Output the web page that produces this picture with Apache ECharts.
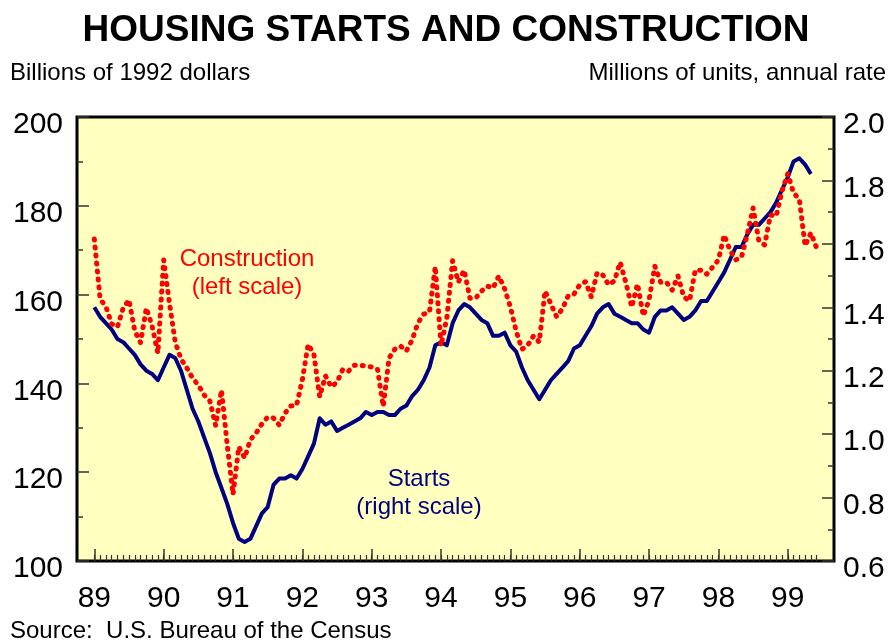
<!DOCTYPE html>
<html>
<head>
<meta charset="utf-8">
<script src="https://cdn.jsdelivr.net/npm/echarts@6/dist/echarts.min.js"></script>
<style>
html, body {margin: 0; padding: 0; background: #fff;}
#chart {width: 892px; height: 640px;}
</style>
</head>
<body>
<div id="chart"></div>
<script>
// months counted from Jan 1989; axis runs from Oct 88 (-3) to Sep 99 (128)
const firstMonth = -3;
const lastMonth = 128;
const lastTickMonth = 125;
const yearLabels = ['89', '90', '91', '92', '93', '94', '95', '96', '97', '98', '99'];

// housing starts, millions of units (right scale), Jan 89 - May 99
const starts = [
    1.40, 1.37, 1.35, 1.33, 1.30, 1.29, 1.27, 1.25, 1.22, 1.20, 1.19, 1.17,
    1.21, 1.25, 1.24, 1.20, 1.14, 1.08, 1.04, 0.99, 0.94, 0.88, 0.83, 0.78,
    0.72, 0.67, 0.66, 0.67, 0.71, 0.75, 0.77, 0.84, 0.86, 0.86, 0.87, 0.86,
    0.89, 0.93, 0.97, 1.05, 1.03, 1.04, 1.01, 1.02, 1.03, 1.04, 1.05, 1.07,
    1.06, 1.07, 1.07, 1.06, 1.06, 1.08, 1.09, 1.12, 1.14, 1.17, 1.21, 1.28,
    1.29, 1.28, 1.35, 1.39, 1.41, 1.40, 1.38, 1.36, 1.35, 1.31, 1.31, 1.32,
    1.28, 1.26, 1.21, 1.17, 1.14, 1.11, 1.14, 1.17, 1.19, 1.21, 1.23, 1.27,
    1.28, 1.31, 1.34, 1.38, 1.40, 1.41, 1.38, 1.37, 1.36, 1.35, 1.35, 1.33,
    1.32, 1.37, 1.39, 1.39, 1.40, 1.38, 1.36, 1.37, 1.39, 1.42, 1.42, 1.45,
    1.48, 1.51, 1.55, 1.59, 1.59, 1.63, 1.66, 1.66, 1.68, 1.70, 1.73, 1.77,
    1.81, 1.86, 1.87, 1.85, 1.82
];

// residential construction, billions of 1992 dollars (left scale), Jan 89 - Jun 99
const construction = [
    172.5, 159.0, 157.3, 153.4, 152.7, 157.0, 158.8, 151.8, 149.2, 157.0, 152.9, 146.8,
    167.8, 158.1, 149.3, 145.5, 143.5, 141.2, 139.6, 137.4, 136.0, 130.5, 138.5, 126.1,
    115.0, 125.7, 123.2, 127.3, 128.8, 130.9, 132.4, 132.2, 130.6, 133.3, 134.9, 135.1,
    140.8, 148.8, 146.5, 137.0, 141.7, 139.2, 140.3, 143.2, 142.8, 144.1, 144.1, 143.9,
    143.7, 143.2, 134.8, 145.7, 147.7, 148.4, 147.3, 149.8, 153.6, 155.6, 156.1, 166.3,
    148.5, 154.7, 167.6, 162.8, 165.5, 159.2, 159.2, 160.8, 161.9, 161.5, 164.2, 161.3,
    157.2, 151.8, 147.7, 148.6, 150.7, 149.3, 160.8, 157.9, 155.0, 156.8, 159.7, 160.1,
    162.2, 162.9, 159.5, 164.9, 164.4, 162.2, 163.1, 167.3, 162.6, 157.2, 162.4, 155.2,
    158.8, 166.4, 162.8, 162.8, 161.0, 164.2, 159.5, 158.6, 165.5, 165.5, 164.6, 166.2,
    167.8, 173.4, 170.0, 167.8, 168.5, 173.6, 179.5, 172.1, 171.2, 177.9, 177.7, 183.3,
    187.2, 182.9, 181.5, 171.0, 173.9, 170.5
];

const font = "'Liberation Sans', Arial, sans-serif";

const months = [];
for (let m = firstMonth; m <= lastMonth; m++) months.push(String(m));
const pad = new Array(-firstMonth).fill(null);

const isMonthTick = (i) => {
    const m = i + firstMonth;
    return m >= 0 && m <= lastTickMonth;
};
const isYearTick = (i) => {
    const m = i + firstMonth;
    return m >= 0 && m % 12 === 0;
};

const chart = echarts.init(document.getElementById('chart'), null, {renderer: 'canvas'});

chart.setOption({
    animation: false,
    backgroundColor: '#fff',
    title: [
        {text: 'HOUSING STARTS AND CONSTRUCTION', left: 'center', top: 7,
            textStyle: {fontSize: 37, fontWeight: 'bold', color: '#000', fontFamily: font}},
        {text: 'Billions of 1992 dollars', left: 5, top: 56,
            textStyle: {fontSize: 24, fontWeight: 'normal', color: '#000', fontFamily: font}},
        {text: 'Millions of units, annual rate', right: 1, top: 56,
            textStyle: {fontSize: 24, fontWeight: 'normal', color: '#000', fontFamily: font}},
        {text: 'Source:  U.S. Bureau of the Census', left: 5, top: 614,
            textStyle: {fontSize: 24, fontWeight: 'normal', color: '#000', fontFamily: font}}
    ],
    graphic: [
        {type: 'text', x: 247, y: 273,
            style: {text: 'Construction\n(left scale)', fill: '#ff0000', font: '24px ' + font,
                align: 'center', verticalAlign: 'middle', lineHeight: 28}},
        {type: 'text', x: 419, y: 493,
            style: {text: 'Starts\n(right scale)', fill: '#000080', font: '24px ' + font,
                align: 'center', verticalAlign: 'middle', lineHeight: 28}}
    ],
    grid: {
        left: 77, right: 58, top: 117, bottom: 79,
        show: true, backgroundColor: '#ffffc0', borderColor: '#000', borderWidth: 3
    },
    xAxis: [
        {
            type: 'category', data: months, boundaryGap: false, position: 'bottom',
            axisLine: {show: false},
            axisTick: {show: true, inside: true, length: 6, interval: isMonthTick,
                lineStyle: {color: '#333', width: 1.2}},
            axisLabel: {show: false},
            splitLine: {show: false}
        },
        {
            type: 'category', data: months, boundaryGap: false, position: 'bottom',
            axisLine: {show: false},
            axisTick: {show: true, inside: true, length: 12, interval: isYearTick,
                lineStyle: {color: '#333', width: 1.5}},
            axisLabel: {show: true, interval: isYearTick, margin: 23, fontSize: 30, color: '#000',
                fontFamily: font,
                formatter: (v) => yearLabels[(Number(v)) / 12]},
            splitLine: {show: false}
        }
    ],
    yAxis: [
        {
            type: 'value', min: 100, max: 200, interval: 20, position: 'left',
            axisLine: {show: false},
            axisTick: {show: true, inside: true, length: 12, lineStyle: {color: '#333', width: 1.5}},
            minorTick: {show: true, splitNumber: 2, length: 6, lineStyle: {color: '#333', width: 1.5}},
            axisLabel: {fontSize: 30, color: '#000', fontFamily: font, margin: 14,
                verticalAlign: 'top', lineHeight: 16},
            splitLine: {show: false}, minorSplitLine: {show: false}
        },
        {
            type: 'value', min: 0.6, max: 2.0, interval: 0.2, position: 'right',
            axisLine: {show: false},
            axisTick: {show: true, inside: true, length: 12, lineStyle: {color: '#333', width: 1.5}},
            minorTick: {show: true, splitNumber: 2, length: 6, lineStyle: {color: '#333', width: 1.5}},
            axisLabel: {fontSize: 30, color: '#000', fontFamily: font, margin: 9,
                verticalAlign: 'top', lineHeight: 16,
                formatter: (v) => v.toFixed(1)},
            splitLine: {show: false}, minorSplitLine: {show: false}
        }
    ],
    series: [
        {
            name: 'Starts', type: 'line', xAxisIndex: 0, yAxisIndex: 1,
            data: pad.concat(starts), symbol: 'none', connectNulls: false,
            lineStyle: {color: '#000080', width: 4, join: 'round'},
            z: 2
        },
        {
            name: 'Construction', type: 'line', xAxisIndex: 0, yAxisIndex: 0,
            data: pad.concat(construction), symbol: 'none',
            lineStyle: {color: '#ff0000', width: 5, type: [1, 7], cap: 'round', join: 'round'},
            z: 3
        }
    ]
});
</script>
</body>
</html>
